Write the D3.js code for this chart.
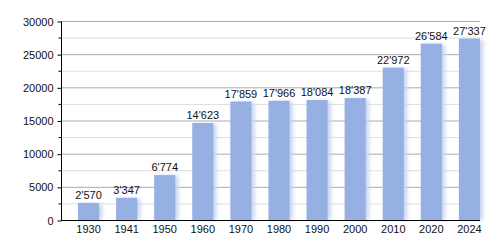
<!DOCTYPE html>
<html>
<head>
<meta charset="utf-8">
<script src="https://cdn.jsdelivr.net/npm/d3@7"></script>
<style>
body { margin: 0; background: #fff; }
text { font-family: "Liberation Sans", Arial, sans-serif; font-size: 11px; fill: #111; }
</style>
</head>
<body>
<svg id="svg" width="500" height="250"></svg>
<script>
// years and population
var years = ["1930","1941","1950","1960","1970","1980","1990","2000","2010","2020","2024"];
var population = [2570,3347,6774,14623,17859,17966,18084,18387,22972,26584,27337];
var yTicks = [0,5000,10000,15000,20000,25000,30000];
var yMinor = [2500,7500,12500,17500,22500,27500];

var svg = d3.select("svg");
var pLeft = 61, pRight = 480, pTop = 21, pBottom = 220;

var x = d3.scaleBand().domain(years).range([pLeft, pRight])
    .paddingInner(0.446).paddingOuter(0.223).align(1);
var y = d3.scaleLinear().domain([0, 30000]).range([pBottom, pTop]);

// shadow filter for bars
var defs = svg.append("defs");
defs.append("filter").attr("id", "blur")
    .attr("x", "-50%").attr("width", "200%")
    .append("feGaussianBlur").attr("stdDeviation", 2);

// minor gridlines
svg.selectAll(".minor").data(yMinor).enter().append("line")
    .attr("x1", pLeft).attr("x2", pRight)
    .attr("y1", function(d){return y(d)+0.5}).attr("y2", function(d){return y(d)+0.5})
    .attr("stroke", "#dedede");
// major gridlines
svg.selectAll(".major").data(yTicks.slice(1)).enter().append("line")
    .attr("x1", pLeft).attr("x2", pRight)
    .attr("y1", function(d){return y(d)+0.5}).attr("y2", function(d){return y(d)+0.5})
    .attr("stroke", "#ababab");

// bar shadows
svg.selectAll(".shadow").data(population).enter().append("rect")
    .attr("x", function(d,i){return x(years[i]) + 3})
    .attr("y", function(d){return y(d) + 1})
    .attr("width", x.bandwidth())
    .attr("height", function(d){return pBottom - y(d) - 1})
    .attr("fill", "#c4d2f0")
    .attr("filter", "url(#blur)");

// bars
svg.selectAll(".bar").data(population).enter().append("rect")
    .attr("x", function(d,i){return x(years[i])})
    .attr("y", function(d){return y(d)})
    .attr("width", x.bandwidth())
    .attr("height", function(d){return pBottom - y(d)})
    .attr("fill", "#97b0e4");

// value labels
var fmt = function(v){ var s = String(v); return s.length > 3 ? s.slice(0, -3) + "'" + s.slice(-3) : s; };
svg.selectAll(".val").data(population).enter().append("text")
    .attr("x", function(d,i){return x(years[i]) + x.bandwidth()/2})
    .attr("y", function(d){return y(d) - 4})
    .attr("text-anchor", "middle")
    .text(fmt);

// y axis
var yAxis = svg.append("g").attr("transform", "translate(" + (pLeft + 0.5) + ",0.5)")
    .call(d3.axisLeft(y).tickValues(yTicks).tickSize(4).tickFormat(d3.format("d")));
yAxis.select(".domain").attr("stroke", "#000").attr("d", "M0," + pTop + "V" + pBottom);
yAxis.selectAll("text").attr("font-size", null).attr("font-family", null).attr("x", -8);
svg.append("g").attr("transform", "translate(" + (pLeft + 0.5) + ",0.5)")
    .selectAll("line").data(yMinor).enter().append("line")
    .attr("x1", -3).attr("x2", 0)
    .attr("y1", function(d){return y(d)}).attr("y2", function(d){return y(d)})
    .attr("stroke", "#000");

// x axis
var xAxis = svg.append("g").attr("transform", "translate(0," + (pBottom + 0.5) + ")")
    .call(d3.axisBottom(x).tickSize(0).tickPadding(5));
xAxis.select(".domain").attr("stroke", "#000").attr("d", "M" + pLeft + ",0H" + pRight);
xAxis.selectAll("text").attr("font-size", null).attr("font-family", null);
</script>
</body>
</html>
